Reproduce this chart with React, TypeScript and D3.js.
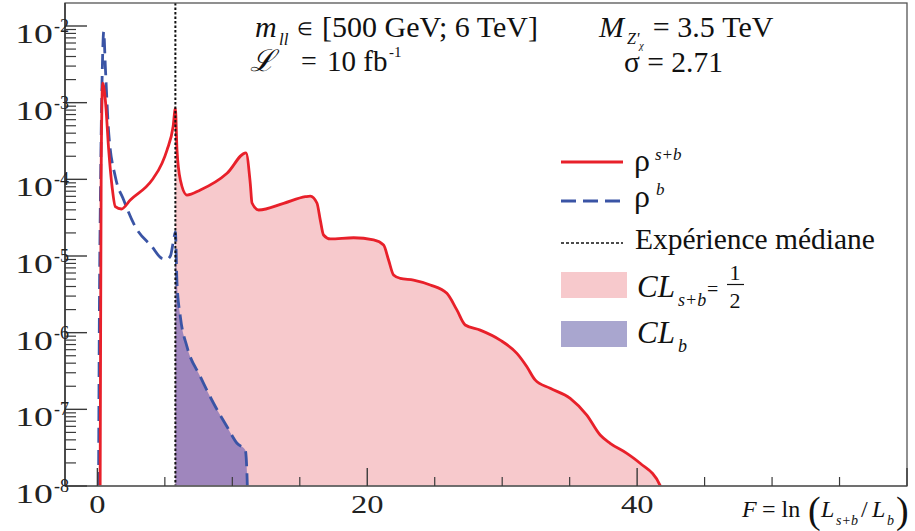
import React from "react";
import * as d3 from "d3";

// ---- data ----
const medianF = 5.78;

const sbX = [0.2, 0.24, 0.28, 0.33, 0.39, 0.59, 0.84, 1.09, 1.33, 1.78, 2.44, 4.05, 4.79, 5.16, 5.61, 5.78, 5.9, 6.15, 6.64, 7.63, 9.61, 11.01, 11.33, 11.46, 11.95, 13.8, 15.41, 15.78, 16.27, 16.52, 16.76, 17.26, 18.99, 20.47, 21.21, 21.58, 21.95, 22.44, 23.43, 24.67, 25.9, 26.64, 27.26, 28.37, 29.85, 31.09, 31.83, 32.44, 33.56, 35.04, 36.27, 37.26, 38.0, 39.24, 40.22, 41.7, 41.9];
const sbY = [5e-9, 1e-6, 1e-4, 8e-4, 1.8e-3, 1.08e-3, 2.41e-4, 8.0e-5, 4.4e-5, 4.1e-5, 5.37e-5, 9.8e-5, 1.62e-4, 2.41e-4, 4.85e-4, 8.43e-4, 2.41e-4, 9.8e-5, 6.24e-5, 7.26e-5, 1.2e-4, 2.22e-4, 8.87e-5, 4.91e-5, 3.98e-5, 4.86e-5, 5.93e-5, 6.05e-5, 4.91e-5, 2.94e-5, 1.88e-5, 1.67e-5, 1.73e-5, 1.62e-5, 1.39e-5, 8.87e-6, 5.65e-6, 5.12e-6, 4.86e-6, 4.19e-6, 3.26e-6, 1.98e-6, 1.26e-6, 1.08e-6, 8.0e-7, 5.38e-7, 3.6e-7, 2.42e-7, 1.88e-7, 1.39e-7, 8.4e-8, 4.62e-8, 3.61e-8, 2.67e-8, 1.98e-8, 1.02e-8, 8e-9];

const bX = [0.08, 0.14, 0.24, 0.37, 0.47, 0.59, 0.84, 1.33, 1.95, 2.81, 4.05, 4.79, 5.16, 5.41, 5.65, 5.78, 5.9, 6.15, 6.64, 7.63, 8.61, 9.61, 10.35, 10.96, 11.1, 11.15];
const bY = [5e-9, 1e-6, 1e-4, 3e-3, 8.4e-3, 2.94e-3, 4.02e-4, 1.08e-4, 5.37e-5, 2.41e-5, 1.32e-5, 9.3e-6, 9.1e-6, 1.0e-5, 1.62e-5, 2.06e-5, 4.45e-6, 1.61e-6, 6.56e-7, 2.67e-7, 1.2e-7, 5.94e-8, 3.61e-8, 2.95e-8, 1.2e-8, 5e-9];

const yDecades = [-2, -3, -4, -5, -6, -7, -8];
const xMajor = [0, 20, 40, 60];
const xLabels = [0, 20, 40];

const RED = "#e8202a";
const PINK = "#f7c9cc";
const BLUE = "#3a54a5";
const PURPLE = "#9f86bd";
const PURPLE_LEG = "#a9a6cf";
const AX = "#3a3a3a";
const SERIF = "'Liberation Serif', 'Times New Roman', serif";

const L = 65, R = 907, T = 3, B = 486;

export default function App() {
  const x = d3.scaleLinear().domain([-2.4, 60]).range([L, R]);
  const y = d3.scaleLog().domain([1e-8, Math.pow(10, -1.7)]).range([B, T]);

  const sb = sbX.map((v, i) => [v, sbY[i]] as [number, number]);
  const bb = bX.map((v, i) => [v, bY[i]] as [number, number]);

  const line = d3.line<[number, number]>().x(d => x(d[0])).y(d => y(d[1])).curve(d3.curveMonotoneX);
  const area = d3.area<[number, number]>().x(d => x(d[0])).y0(B).y1(d => y(d[1])).curve(d3.curveMonotoneX);

  const sbFill = sb.filter(d => d[0] >= medianF);
  const bFill = bb.filter(d => d[0] >= medianF);

  const minorY: number[] = [];
  for (let e = -8; e <= -2; e++) {
    for (let m = 2; m <= 9; m++) {
      const v = m * Math.pow(10, e);
      if (v < Math.pow(10, -1.7)) minorY.push(v);
    }
  }
  const minorX: number[] = [];
  for (let v = 0; v <= 60; v += 5) if (!xMajor.includes(v)) minorX.push(v);

  return (
    <svg width={915} height={531} style={{ display: "block", position: "absolute", left: 0, top: 0 }} fontFamily={SERIF}>
      <defs>
        <clipPath id="plot"><rect x={L} y={T} width={R - L} height={B - T} /></clipPath>
      </defs>
      <rect x={0} y={0} width={915} height={531} fill="#fff" />
      <g clipPath="url(#plot)">
        <path d={area(sbFill) || ""} fill={PINK} />
        <path d={area(bFill) || ""} fill={PURPLE} />
        <path d={line(bb) || ""} fill="none" stroke={BLUE} strokeWidth={2.8} strokeDasharray="15 7" />
        <path d={line(sb) || ""} fill="none" stroke={RED} strokeWidth={2.8} />
        <line x1={x(medianF)} x2={x(medianF)} y1={T} y2={B} stroke="#111" strokeWidth={2} strokeDasharray="2.5 2" />
      </g>
      {/* frame */}
      <rect x={L} y={T} width={R - L} height={B - T} fill="none" stroke="#555" strokeWidth={1.3} />
      <line x1={L} x2={L} y1={T} y2={B} stroke={AX} strokeWidth={1.6} />
      <line x1={L} x2={R} y1={B} y2={B} stroke="#666" strokeWidth={1.6} />
      {/* y ticks */}
      {yDecades.map(k => (
        <line key={"ym" + k} x1={L} x2={L + 22} y1={y(Math.pow(10, k))} y2={y(Math.pow(10, k))} stroke={AX} strokeWidth={1.4} />
      ))}
      {minorY.map((v, i) => (
        <line key={"yn" + i} x1={L} x2={L + 11} y1={y(v)} y2={y(v)} stroke={AX} strokeWidth={1.2} />
      ))}
      {yDecades.map(k => {
        const ty = y(Math.pow(10, k));
        return (
          <g key={"yl" + k} fill="#222">
            <text transform={`translate(53,${ty + 17}) scale(1.4,1)`} textAnchor="end" fontSize={27}>10</text>
            <text x={54} y={ty + 6} fontSize={18}>{k}</text>
          </g>
        );
      })}
      {/* x ticks */}
      {xMajor.map(v => (
        <line key={"xm" + v} x1={x(v)} x2={x(v)} y1={B} y2={B - 18} stroke={AX} strokeWidth={1.4} />
      ))}
      {minorX.map(v => (
        <line key={"xn" + v} x1={x(v)} x2={x(v)} y1={B} y2={B - 9} stroke={AX} strokeWidth={1.2} />
      ))}
      {xLabels.map(v => (
        <text key={"xl" + v} transform={`translate(${x(v)},513) scale(1.3,1)`} textAnchor="middle" fontSize={25} fill="#222">{v}</text>
      ))}
      {/* x title */}
      <g fill="#111" fontSize={24}>
        <text x={742} y={517} fontStyle="italic">F</text>
        <text x={762} y={517}>= ln</text>
        <text x={808} y={523} fontSize={38}>(</text>
        <text x={821} y={517} fontStyle="italic">L</text>
        <text x={836} y={525} fontSize={14} fontStyle="italic">s+b</text>
        <text x={861} y={517}>/</text>
        <text x={872} y={517} fontStyle="italic">L</text>
        <text x={887} y={525} fontSize={14} fontStyle="italic">b</text>
        <text x={896} y={523} fontSize={38}>)</text>
      </g>
      {/* top annotations */}
      <g fill="#111" fontSize={30}>
        <text x={255} y={37} fontStyle="italic">m</text>
        <text x={279} y={45} fontSize={17} fontStyle="italic">ll</text>
        <text x={297} y={35} fontSize={18}>∈</text>
        <text x={322} y={37}>[500 GeV; 6 TeV]</text>
        <text x={250} y={71} fontStyle="italic">ℒ</text>
        <text x={301} y={70} fontSize={28}>=</text>
        <text x={327} y={71} fontSize={29}>10 fb</text>
        <text x={389} y={57} fontSize={15}>-1</text>
        <text x={599} y={37}>
          <tspan fontStyle="italic">M</tspan>
          <tspan dx={3} dy={7} fontSize={16} fontStyle="italic">Z'</tspan>
          <tspan dx={0} dy={5} fontSize={10} fontStyle="italic">χ</tspan>
          <tspan dx={9} dy={-12}>= 3.5 TeV</tspan>
        </text>
        <text x={624} y={72} fontSize={29.5}>σ = 2.71</text>
      </g>
      {/* legend */}
      <line x1={561} x2={623} y1={162} y2={162} stroke={RED} strokeWidth={3} />
      <line x1={561} x2={623} y1={201} y2={201} stroke={BLUE} strokeWidth={3} strokeDasharray="15 7" />
      <line x1={561} x2={623} y1={243} y2={243} stroke="#111" strokeWidth={1.6} strokeDasharray="3 2" />
      <rect x={561} y={272} width={66} height={26} fill={PINK} />
      <rect x={561} y={321} width={66} height={26} fill={PURPLE_LEG} />
      <g fill="#111" fontSize={29.5}>
        <text x={634} y={171} fontSize={32}>ρ</text>
        <text x={655} y={160} fontSize={17} fontStyle="italic">s+b</text>
        <text x={634} y={207} fontSize={32}>ρ</text>
        <text x={656} y={195} fontSize={17} fontStyle="italic">b</text>
        <text x={635} y={249}>Expérience médiane</text>
        <text x={637} y={297} fontSize={31} fontStyle="italic">CL</text>
        <text x={678} y={306} fontSize={18} fontStyle="italic">s+b</text>
        <text x={707} y={296} fontSize={20}>=</text>
        <text x={735} y={280} fontSize={22} textAnchor="middle">1</text>
        <line x1={727} x2={744} y1={284.5} y2={284.5} stroke="#111" strokeWidth={1.2} />
        <text x={735} y={308} fontSize={22} textAnchor="middle">2</text>
        <text x={637} y={343} fontSize={31} fontStyle="italic">CL</text>
        <text x={678} y={352} fontSize={18} fontStyle="italic">b</text>
      </g>
    </svg>
  );
}
